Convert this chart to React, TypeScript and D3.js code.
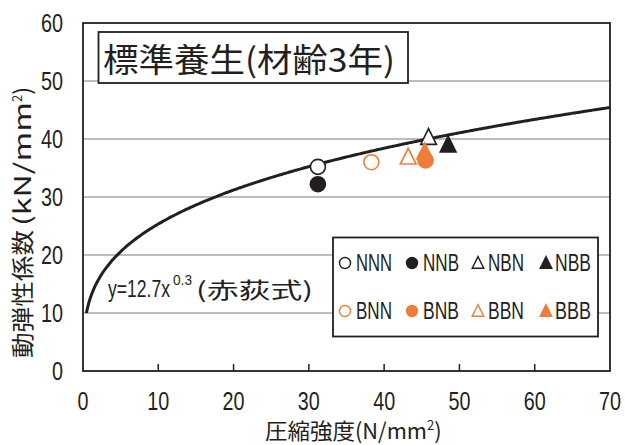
import * as d3 from "d3";

// measured points: compressive strength (N/mm2) vs dynamic modulus (kN/mm2)
const seriesNames = ["NNN", "NNB", "NBN", "NBB", "BNN", "BNB", "BBN", "BBB"];
const strength = [31.2, 31.2, 45.9, 48.5, 38.3, 45.5, 43.2, 45.4];
const modulus = [35.2, 32.2, 40.3, 39.0, 36.0, 36.3, 36.9, 37.8];
const shapes = ["circle", "circle", "triangle", "triangle", "circle", "circle", "triangle", "triangle"];
const filled = [false, true, false, true, false, true, false, true];
const colors = ["#231f20", "#231f20", "#231f20", "#231f20", "#ee7d3a", "#ee7d3a", "#ee7d3a", "#ee7d3a"];
const drawOrder = [0, 1, 2, 3, 4, 6, 7, 5];

const xTicks = [0, 10, 20, 30, 40, 50, 60, 70];
const yTicks = [0, 10, 20, 30, 40, 50, 60];

// 赤荻式 y = 12.7 x^0.3
const coefA = 12.7;
const coefB = 0.3;
const curveStart = 0.45;

const W = 625;
const H = 445;
const M = { top: 23, right: 15, bottom: 74, left: 83 };
const latin = "'Liberation Sans Narrow', 'Liberation Sans', Arial, sans-serif";
const cjk = "'Noto Sans CJK JP', 'Noto Sans', sans-serif";

function triangle(cx: number, cy: number, r: number) {
  const h = r * 2;
  return `M${cx},${cy - h * 0.55}L${cx + r},${cy + h * 0.45}L${cx - r},${cy + h * 0.45}Z`;
}

const App = () => {
  const x = d3.scaleLinear().domain([0, 70]).range([M.left, W - M.right]);
  const y = d3.scaleLinear().domain([0, 60]).range([H - M.bottom, M.top]);

  const curveX = d3.range(curveStart, 70.01, 0.25);
  const line = d3
    .line<number>()
    .x((d) => x(d))
    .y((d) => y(coefA * Math.pow(d, coefB)))
    .curve(d3.curveMonotoneX);

  const drawMark = (i: number, cx: number, cy: number, r: number, sw: number, key: string) => {
    const fill = filled[i] ? colors[i] : "#fff";
    if (shapes[i] === "circle")
      return <circle key={key} cx={cx} cy={cy} r={r} fill={fill} stroke={colors[i]} strokeWidth={sw} />;
    return <path key={key} d={triangle(cx, cy, r * 1.05)} fill={fill} stroke={colors[i]} strokeWidth={sw} />;
  };

  const legendX = [345, 412, 478, 546];
  const legendTextX = [356, 423, 488, 555];
  const legendY = [263, 311];

  return (
    <svg width={W} height={H} style={{ position: "absolute", left: 0, top: 0, background: "#fff" }}>
      {/* grid */}
      {yTicks.slice(1, -1).map((t) => (
        <line key={"g" + t} x1={x(0)} x2={x(70)} y1={y(t)} y2={y(t)} stroke="#a6a6a6" strokeWidth={1.5} />
      ))}
      {/* x ticks inward */}
      {xTicks.slice(1, -1).map((t) => (
        <line key={"xt" + t} x1={x(t)} x2={x(t)} y1={y(0)} y2={y(0) - 7} stroke="#231f20" strokeWidth={1.5} />
      ))}
      <rect x={x(0)} y={y(60)} width={x(70) - x(0)} height={y(0) - y(60)} fill="none" stroke="#231f20" strokeWidth={1.8} />

      {/* tick labels */}
      {yTicks.map((t) => (
        <text key={"yl" + t} x={63} y={y(t) + 9} textAnchor="end" fontFamily={latin} fontSize={25} fill="#231f20"
          textLength={String(t).length * 11} lengthAdjust="spacingAndGlyphs">{t}</text>
      ))}
      {xTicks.map((t) => (
        <text key={"xl" + t} x={Math.min(x(t) - (String(t).length * 11) / 2, 600)} y={410} fontFamily={latin} fontSize={25} fill="#231f20"
          textLength={String(t).length * 11} lengthAdjust="spacingAndGlyphs">{t}</text>
      ))}

      {/* axis titles */}
      <text x={265} y={439} fontFamily={cjk} fontSize={22} fill="#231f20">
        <tspan textLength={90} lengthAdjust="spacingAndGlyphs">圧縮強度</tspan>
        <tspan textLength={72} lengthAdjust="spacingAndGlyphs">(N/mm</tspan>
        <tspan fontSize={13} dy={-9}>2</tspan>
        <tspan dy={9}>)</tspan>
      </text>
      <text transform="translate(31,358) rotate(-90)" fontFamily={cjk} fontSize={23} fill="#231f20">
        <tspan textLength={128} lengthAdjust="spacingAndGlyphs">動弾性係数</tspan>
        <tspan dx={4} textLength={124} lengthAdjust="spacingAndGlyphs">(kN/mm</tspan>
        <tspan fontSize={13} dy={-9}>2</tspan>
        <tspan dy={9}>)</tspan>
      </text>

      {/* fitted curve */}
      <path d={line(curveX) as string} fill="none" stroke="#231f20" strokeWidth={3} />

      {/* data points */}
      {drawOrder.map((i) => drawMark(i, x(strength[i]), y(modulus[i]), 7.5, 1.6, "p" + i))}

      {/* title box */}
      <rect x={98.5} y={32} width={309.5} height={51} fill="#fff" stroke="#231f20" strokeWidth={1.8} />
      <text x={103} y={72} fontFamily={cjk} fontSize={33} fill="#231f20" textLength={292} lengthAdjust="spacingAndGlyphs">
        標準養生(材齢3年)
      </text>

      {/* equation */}
      <text x={108} y={297} fontFamily={latin} fontSize={23} fill="#231f20" textLength={62} lengthAdjust="spacingAndGlyphs">y=12.7x</text>
      <text x={173} y={285} fontFamily={latin} fontSize={14} fill="#231f20" textLength={19} lengthAdjust="spacingAndGlyphs">0.3</text>
      <text x={196} y={298} fontFamily={cjk} fontSize={22} fill="#231f20" textLength={117} lengthAdjust="spacingAndGlyphs">(赤荻式)</text>

      {/* legend */}
      <rect x={333} y={237.5} width={265} height={99} fill="#fff" stroke="#231f20" strokeWidth={1.8} />
      {seriesNames.map((name, i) => {
        const col = i % 4;
        const row = Math.floor(i / 4);
        return (
          <g key={"lg" + name}>
            {drawMark(i, legendX[col], legendY[row], 5.5, 1.4, "lm" + name)}
            <text x={legendTextX[col]} y={legendY[row] + 8} fontFamily={latin} fontSize={23} fill="#231f20"
              textLength={36} lengthAdjust="spacingAndGlyphs">{name}</text>
          </g>
        );
      })}
    </svg>
  );
};

export default App;
